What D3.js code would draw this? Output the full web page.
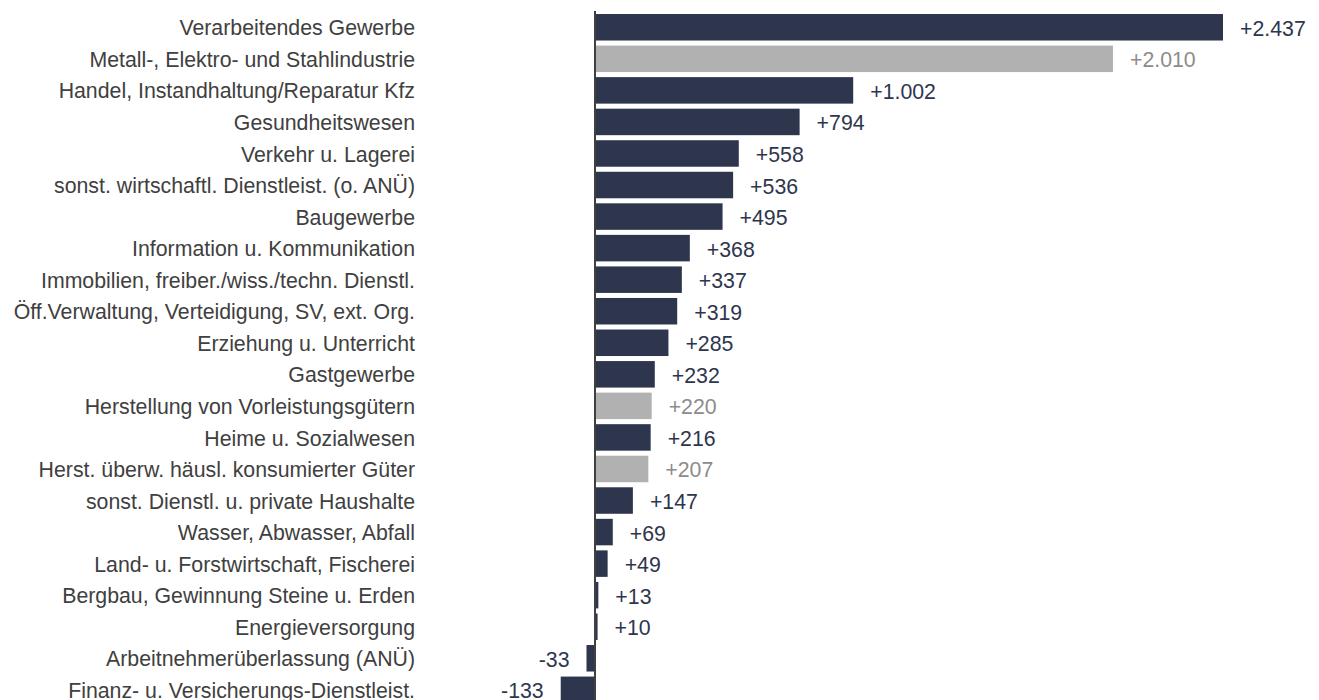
<!DOCTYPE html>
<html>
<head>
<meta charset="utf-8">
<script src="https://cdn.jsdelivr.net/npm/d3@7"></script>
<style>
  body { margin: 0; background: #fff; }
  svg text { font-family: "Liberation Sans", Arial, sans-serif; }
</style>
</head>
<body>
<div id="chart"></div>
<script>
// categories and values (top to bottom)
var branchen = ["Verarbeitendes Gewerbe", "Metall-, Elektro- und Stahlindustrie", "Handel, Instandhaltung/Reparatur Kfz",
  "Gesundheitswesen", "Verkehr u. Lagerei", "sonst. wirtschaftl. Dienstleist. (o. ANÜ)", "Baugewerbe",
  "Information u. Kommunikation", "Immobilien, freiber./wiss./techn. Dienstl.", "Öff.Verwaltung, Verteidigung, SV, ext. Org.",
  "Erziehung u. Unterricht", "Gastgewerbe", "Herstellung von Vorleistungsgütern", "Heime u. Sozialwesen",
  "Herst. überw. häusl. konsumierter Güter", "sonst. Dienstl. u. private Haushalte", "Wasser, Abwasser, Abfall",
  "Land- u. Forstwirtschaft, Fischerei", "Bergbau, Gewinnung Steine u. Erden", "Energieversorgung",
  "Arbeitnehmerüberlassung (ANÜ)", "Finanz- u. Versicherungs-Dienstleist."]
var werte = [2437, 2010, 1002, 794, 558, 536, 495, 368, 337, 319, 285, 232, 220, 216, 207, 147, 69, 49, 13, 10, -33, -133]
// sub-branches drawn in grey
var unterbranche = [false, true, false, false, false, false, false, false, false, false, false, false, true, false, true, false, false, false, false, false, false, false]

var daten = branchen.map((b, i) => ({ name: b, wert: werte[i], grau: unterbranche[i] }))

var breite = 1319, hoehe = 700
var dunkel = "#2e364d", hell = "#b1b1b1"

var svg = d3.select("#chart")
  .append("svg")
  .attr("width", breite)
  .attr("height", hoehe)

var x = d3.scaleLinear()
  .domain([0, 2437])
  .range([595, 1223])

var y = d3.scaleBand()
  .domain(branchen)
  .range([11.5, 11.5 + 31.55 * branchen.length])
  .paddingInner(0.16)
  .paddingOuter(0.08)

svg.selectAll("rect.bar")
  .data(daten)
  .enter()
  .append("rect")
  .attr("class", "bar")
  .attr("x", d => x(Math.min(0, d.wert)))
  .attr("y", d => y(d.name))
  .attr("width", d => Math.abs(x(d.wert) - x(0)))
  .attr("height", y.bandwidth())
  .style("fill", d => d.grau ? hell : dunkel)

// zero line
svg.append("line")
  .attr("x1", x(0)).attr("x2", x(0))
  .attr("y1", 11).attr("y2", hoehe)
  .style("stroke", "#404040")
  .style("stroke-width", 2)

// category labels
svg.selectAll("text.kat")
  .data(daten)
  .enter()
  .append("text")
  .attr("class", "kat")
  .attr("x", 415)
  .attr("y", d => y(d.name) + y.bandwidth() / 2)
  .attr("dy", "0.38em")
  .attr("text-anchor", "end")
  .style("font-size", "21.3px")
  .style("fill", "#404040")
  .text(d => d.name)

// value labels
var fmt = v => (v > 0 ? "+" : "-") + d3.format(",")(Math.abs(v)).replace(/,/g, ".")

svg.selectAll("text.wert")
  .data(daten)
  .enter()
  .append("text")
  .attr("class", "wert")
  .attr("x", d => d.wert >= 0 ? x(d.wert) + 17 : x(d.wert) - 17)
  .attr("y", d => y(d.name) + y.bandwidth() / 2)
  .attr("dy", "0.4em")
  .attr("text-anchor", d => d.wert >= 0 ? "start" : "end")
  .style("font-size", "21.3px")
  .style("fill", d => d.grau ? "#8c8c8c" : dunkel)
  .text(d => fmt(d.wert))
</script>
</body>
</html>
